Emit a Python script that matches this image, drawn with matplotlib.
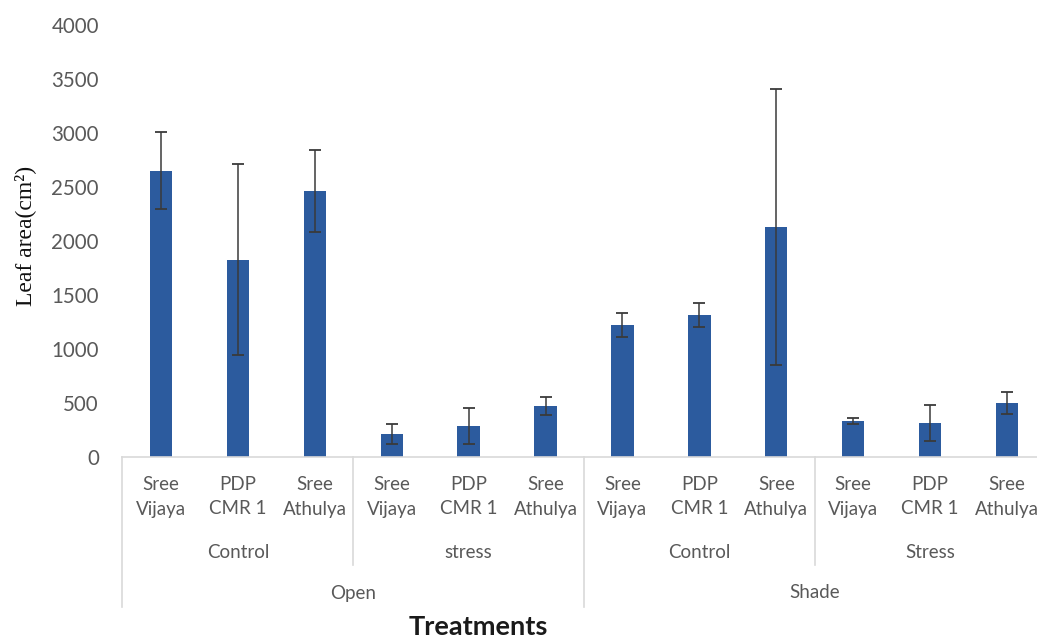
import matplotlib
matplotlib.use("Agg")
import matplotlib.pyplot as plt
from matplotlib.lines import Line2D

# Leaf area by variety, stress level and light condition
varieties = ["Sree\nVijaya", "PDP\nCMR 1", "Sree\nAthulya"] * 4
treatments = ["Control", "stress", "Control", "Stress"]
conditions = ["Open", "Shade"]
leaf_area = [2650, 1825, 2465, 213, 287, 472, 1222, 1315, 2130, 333, 315, 500]
leaf_area_se = [355, 885, 380, 93, 167, 83, 111, 111, 1275, 28, 166, 102]
y_ticks = [0, 500, 1000, 1500, 2000, 2500, 3000, 3500, 4000]

W, H = 1037, 638
fig = plt.figure(figsize=(W / 100, H / 100), dpi=100)
fig.patch.set_facecolor("white")

# plot area in pixels (the category axis runs slightly past the right edge)
x0, x1, ytop, ybase = 122.5, 1045.5, 25, 457
ax = fig.add_axes([x0 / W, (H - ybase) / H, (x1 - x0) / W, (ybase - ytop) / H])

n = len(leaf_area)
xs = list(range(n))
bar_color = "#2C5B9E"
ax.bar(xs, leaf_area, width=0.29, color=bar_color, zorder=2)
ax.errorbar(xs, leaf_area, yerr=leaf_area_se, fmt="none", ecolor="#3a3a3a",
            elinewidth=1.1, capsize=4.5, capthick=1.3, zorder=3)

ax.set_xlim(-0.5, n - 0.5)
ax.set_ylim(0, 4000)
ax.set_yticks(y_ticks)
ax.set_yticklabels([str(v) for v in y_ticks], fontfamily="Lato", fontsize=14.8,
                   color="#595959")
ax.tick_params(axis="y", length=0, pad=17)
ax.set_xticks([])
for side in ("top", "right", "left"):
    ax.spines[side].set_visible(False)
ax.spines["bottom"].set_color("#D9D9D9")
ax.spines["bottom"].set_linewidth(1.2)

tr = ax.get_xaxis_transform()
axh = ybase - ytop


def below(px):
    """Axes-fraction y for a point px pixels under the baseline."""
    return -px / axh


label_kw = dict(fontfamily="Lato", fontsize=13.5, color="#595959",
                ha="center", va="center", transform=tr, clip_on=False)

# variety labels
for x, name in zip(xs, varieties):
    ax.text(x, below(40), name, linespacing=1.5, **label_kw)

# treatment labels and separators
for i, name in enumerate(treatments):
    ax.text(3 * i + 1, below(95), name, **label_kw)
for b in (2.5, 8.5):
    ax.add_line(Line2D([b, b], [below(0), below(108)], transform=tr,
                       color="#D9D9D9", lw=1.2, clip_on=False))

# light condition labels and separators
for i, name in enumerate(conditions):
    ax.text(6 * i + 2.5, below(136), name, **label_kw)
for b in (-0.5, 5.5):
    ax.add_line(Line2D([b, b], [below(0), below(150)], transform=tr,
                       color="#D9D9D9", lw=1.2, clip_on=False))

fig.text(478 / W, 1 - 627 / H, "Treatments", fontfamily="Lato", fontweight="bold",
         fontsize=19.5, color="#1a1a1a", ha="center", va="center")
fig.text(25 / W, 1 - 236 / H, "Leaf area(cm²)", fontfamily="Liberation Serif",
         fontsize=17, color="#111111", rotation=90, ha="center", va="center")

fig.savefig("out.png", dpi=100, facecolor="white")
